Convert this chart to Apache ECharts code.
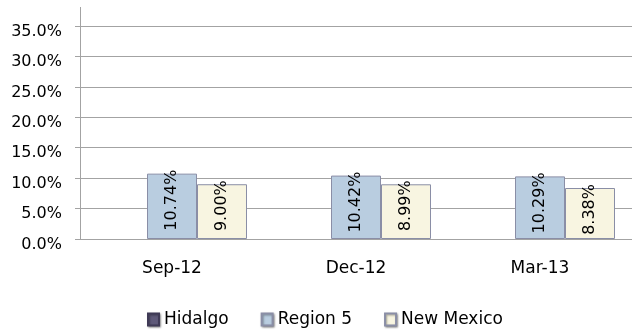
<!DOCTYPE html>
<html>
<head>
<meta charset="utf-8">
<script src="https://cdn.jsdelivr.net/npm/echarts@6/dist/echarts.min.js"></script>
<style>
  html, body { margin: 0; padding: 0; background: #ffffff; }
  #chart { width: 632px; height: 331px; }
</style>
</head>
<body>
<div id="chart"></div>
<script>
// Quarterly rates (percent) by area
const quarters = ['Sep-12', 'Dec-12', 'Mar-13'];
const hidalgo = [null, null, null];
const region5 = [10.74, 10.42, 10.29];
const newMexico = [9.00, 8.99, 8.38];

const FONT = 'DejaVu Sans';
const GRID_COLOR = '#a3a3a3';
const BAR_BORDER = '#8a8ea6';

const chart = echarts.init(document.getElementById('chart'), null, { renderer: 'canvas' });

const barLabel = {
  show: true,
  position: 'insideTop',
  rotate: 90,
  align: 'right',
  verticalAlign: 'middle',
  distance: -4,
  color: '#000000',
  fontFamily: FONT,
  fontSize: 16,
  formatter: p => p.value.toFixed(2) + '%'
};

chart.setOption({
  animation: false,
  backgroundColor: '#ffffff',
  grid: { left: 80, right: -4, top: 26, bottom: 92, containLabel: false },
  legend: {
    left: 142,
    top: 306,
    itemWidth: 11,
    itemHeight: 12,
    itemGap: 32,
    icon: 'rect',
    itemStyle: {
      shadowColor: 'rgba(0,0,0,0.35)',
      shadowBlur: 2,
      shadowOffsetX: 1,
      shadowOffsetY: 1
    },
    textStyle: { fontFamily: FONT, fontSize: 17, color: '#000000' },
    data: ['Hidalgo', 'Region 5', 'New Mexico']
  },
  xAxis: {
    type: 'category',
    data: quarters,
    axisLine: { show: true, lineStyle: { color: GRID_COLOR, width: 1 } },
    axisTick: { show: false },
    axisLabel: { margin: 21, color: '#000000', fontFamily: FONT, fontSize: 17 }
  },
  yAxis: {
    type: 'value',
    min: 0,
    max: 35,
    interval: 5,
    axisLine: { show: true, lineStyle: { color: GRID_COLOR, width: 1 } },
    axisTick: { show: true, length: 5, lineStyle: { color: GRID_COLOR } },
    splitLine: { show: true, lineStyle: { color: GRID_COLOR, width: 1 } },
    axisLabel: {
      margin: 18,
      color: '#000000',
      fontFamily: FONT,
      fontSize: 16,
      verticalAlign: 'top',
      lineHeight: 11,
      formatter: v => v.toFixed(1) + '%'
    }
  },
  // vertical axis line continues a little above the top gridline
  graphic: [{
    type: 'line',
    shape: { x1: 80.5, y1: 7, x2: 80.5, y2: 26 },
    style: { stroke: GRID_COLOR, lineWidth: 1 },
    silent: true
  }],
  series: [
    {
      name: 'Hidalgo', type: 'bar', data: hidalgo,
      barWidth: 50, barGap: '0%',
      itemStyle: { color: '#5e5979', borderColor: '#3f3a56', borderWidth: 1 }
    },
    {
      name: 'Region 5', type: 'bar', data: region5,
      barWidth: 50, barGap: '0%',
      itemStyle: { color: '#b9cde0', borderColor: BAR_BORDER, borderWidth: 1 },
      label: barLabel
    },
    {
      name: 'New Mexico', type: 'bar', data: newMexico,
      barWidth: 50, barGap: '0%',
      itemStyle: { color: '#f8f5e1', borderColor: BAR_BORDER, borderWidth: 1 },
      label: barLabel
    }
  ]
});
</script>
</body>
</html>
